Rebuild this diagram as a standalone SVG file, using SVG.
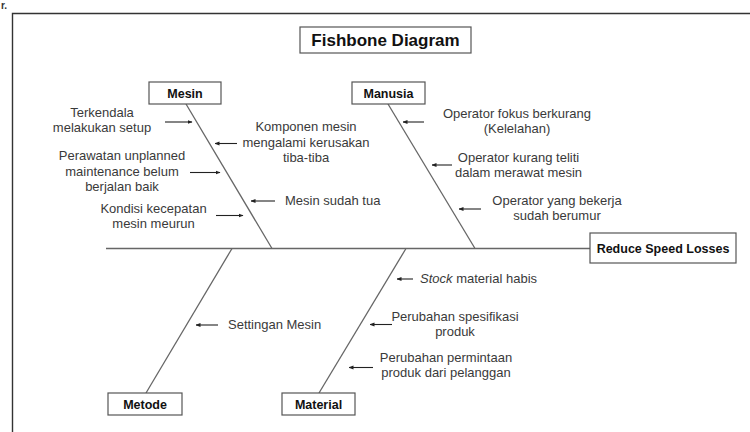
<svg xmlns="http://www.w3.org/2000/svg" width="750" height="432" viewBox="0 0 750 432">
<style>
.lbl{font-family:"Liberation Sans",Arial,sans-serif;font-size:13px;fill:#3a3a3a}
.box{fill:#fff;stroke:#555;stroke-width:1.2}
.bt{font-family:"Liberation Sans",Arial,sans-serif;font-size:12.5px;font-weight:bold;fill:#111;text-anchor:middle}
.bone{stroke:#666;stroke-width:1.3;fill:none}
.arr{stroke:#222;stroke-width:1.1;fill:none;marker-end:url(#ah)}
.c{text-anchor:middle}
</style>
<defs>
<marker id="ah" viewBox="0 0 10 10" refX="9" refY="5" markerWidth="5" markerHeight="5" markerUnits="userSpaceOnUse" orient="auto">
<path d="M0,1 L10,5 L0,9 Z" fill="#222"/>
</marker>
</defs>
<rect width="750" height="432" fill="#fff"/>
<text x="1" y="9" style="font-family:'Liberation Sans',Arial,sans-serif;font-size:10px;font-weight:bold;fill:#333">r.</text>
<path d="M12.5,432 V13.5 H750" stroke="#333" stroke-width="1.4" fill="none"/>

<g id="connectors">
<line class="bone" x1="106" y1="248.5" x2="590" y2="248.5"/>
<line class="bone" x1="186" y1="104" x2="272" y2="248.5"/>
<line class="bone" x1="388" y1="104" x2="475" y2="248.5"/>
<line class="bone" x1="232" y1="248.5" x2="146" y2="393"/>
<line class="bone" x1="406" y1="248.5" x2="319" y2="393"/>
<line class="arr" x1="165" y1="122" x2="192" y2="122"/>
<line class="arr" x1="237" y1="143.5" x2="215" y2="143.5"/>
<line class="arr" x1="190" y1="172.5" x2="220" y2="172.5"/>
<line class="arr" x1="275" y1="201" x2="251" y2="201"/>
<line class="arr" x1="216" y1="215.5" x2="243" y2="215.5"/>
<line class="arr" x1="424" y1="122" x2="403" y2="122"/>
<line class="arr" x1="452" y1="165" x2="432" y2="165"/>
<line class="arr" x1="481" y1="209" x2="459" y2="209"/>
<line class="arr" x1="218" y1="325" x2="196" y2="325"/>
<line class="arr" x1="413" y1="279" x2="397" y2="279"/>
<line class="arr" x1="392" y1="324.5" x2="370" y2="324.5"/>
<line class="arr" x1="373" y1="367.5" x2="349" y2="367.5"/>
</g>

<g id="title">
<rect class="box" x="300" y="27" width="171" height="26"/>
<text x="385.5" y="46" style="font-family:'Liberation Sans',Arial,sans-serif;font-size:17px;font-weight:bold;fill:#111;text-anchor:middle">Fishbone Diagram</text>
</g>
<g id="mesin">
<rect class="box" x="149" y="82" width="72" height="22"/>
<text class="bt" x="185" y="97.5">Mesin</text>
</g>
<g id="manusia">
<rect class="box" x="352" y="82" width="73" height="22"/>
<text class="bt" x="388.5" y="97.5">Manusia</text>
</g>
<g id="metode">
<rect class="box" x="108" y="393" width="74" height="22"/>
<text class="bt" x="145" y="408.5">Metode</text>
</g>
<g id="material">
<rect class="box" x="282" y="393" width="73" height="22"/>
<text class="bt" x="318.5" y="408.5">Material</text>
</g>
<g id="effect">
<rect class="box" x="590" y="233" width="146" height="30"/>
<text class="bt" x="663" y="252.5">Reduce Speed Losses</text>
</g>

<g id="causes">
<text class="lbl c" x="102" y="117">Terkendala</text>
<text class="lbl c" x="102" y="132">melakukan setup</text>
<text class="lbl c" x="306" y="131">Komponen mesin</text>
<text class="lbl c" x="306" y="146.5">mengalami kerusakan</text>
<text class="lbl c" x="306" y="162">tiba-tiba</text>
<text class="lbl c" x="122" y="160">Perawatan unplanned</text>
<text class="lbl c" x="122" y="175.5">maintenance belum</text>
<text class="lbl c" x="122" y="191">berjalan baik</text>
<text class="lbl" x="285" y="205">Mesin sudah tua</text>
<text class="lbl c" x="153.5" y="212.5">Kondisi kecepatan</text>
<text class="lbl c" x="153.5" y="227.5">mesin meurun</text>
<text class="lbl c" x="517" y="118">Operator fokus berkurang</text>
<text class="lbl c" x="517" y="133">(Kelelahan)</text>
<text class="lbl c" x="518.5" y="162">Operator kurang teliti</text>
<text class="lbl c" x="518.5" y="177">dalam merawat mesin</text>
<text class="lbl c" x="557" y="205">Operator yang bekerja</text>
<text class="lbl c" x="557" y="220">sudah berumur</text>
<text class="lbl" x="228" y="329">Settingan Mesin</text>
<text class="lbl" x="420" y="283"><tspan font-style="italic">Stock</tspan> material habis</text>
<text class="lbl c" x="455" y="321">Perubahan spesifikasi</text>
<text class="lbl c" x="455" y="336">produk</text>
<text class="lbl c" x="446" y="362">Perubahan permintaan</text>
<text class="lbl c" x="446" y="377">produk dari pelanggan</text>
</g>
</svg>
